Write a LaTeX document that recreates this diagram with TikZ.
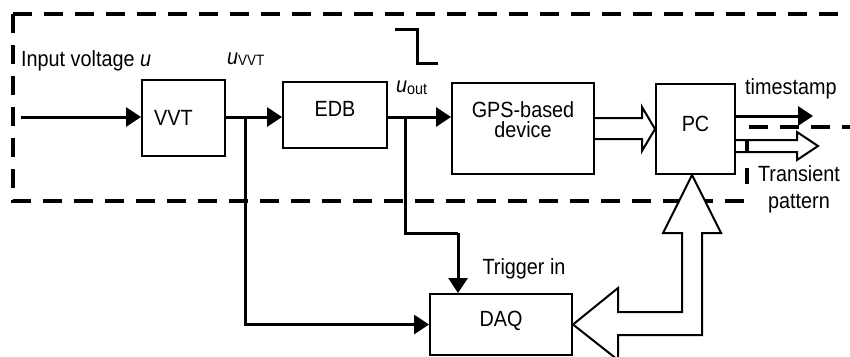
\documentclass[tikz,border=0pt]{standalone}
\usepackage{fontspec}
\setmainfont{Liberation Sans}[FakeStretch=0.9]
\usetikzlibrary{arrows.meta}
\begin{document}
\begin{tikzpicture}[x=1pt,y=-1pt,
  every node/.style={font=\fontsize{22}{27}\selectfont, inner sep=0pt},
  blockbox/.style={draw, line width=2pt, fill=white, align=center},
  wire/.style={line width=3pt},
  arr/.style={wire, -{Triangle[length=15pt,width=19pt]}},
  hollow/.style={line width=2pt, fill=white, line join=miter},
  bound/.style={line width=4.5pt, dash pattern=on 19pt off 12pt}]
\clip (0,0) rectangle (850,356);
\fill[white] (0,0) rectangle (850,356);

% boundary (dashed)
\draw[bound] (13,14) -- (850,14);
\draw[bound] (13,14) -- (13,201) -- (747,201);
\draw[bound] (749,127) -- (850,127);
\draw[line width=4.5pt] (747,184) -- (747,168);

% blocks
\node[blockbox, minimum width=83pt, minimum height=76pt] (VVT) at (183.5,118) {VVT\hspace*{20pt}};
\node[blockbox, minimum width=104pt, minimum height=66pt, text height=16pt, text depth=14pt] (EDB) at (335,115) {EDB};
\node[blockbox, minimum width=142pt, minimum height=91pt] (GPS) at (523,128.5) {GPS-based\\[-7pt]device\\[-10pt]\mbox{}};
\node[blockbox, minimum width=79pt, minimum height=90pt, text height=16pt, text depth=12pt] (PC) at (695.5,129) {PC};
\node[blockbox, minimum width=142pt, minimum height=61pt, text height=16pt, text depth=12pt] (DAQ) at (501,324.5) {DAQ};

% coordinates
\coordinate (in) at (21,117);
\coordinate (b1) at (245,117);
\coordinate (b2) at (405,117);
\coordinate (c2) at (458,233);
\coordinate (ts) at (813,116);
\coordinate (up) at (692,233);

% connectors
\draw[arr] (in) -- (in -| VVT.west);
\draw[arr] (VVT.east |- in) -- (EDB.west |- in);
\draw[arr] (EDB.east |- in) -- (GPS.west |- in);
\draw[arr] (b1) |- (DAQ.west);
\draw[wire] (b2) |- (c2);
\draw[arr] (c2) -- (c2 |- DAQ.north);
\draw[arr] (PC.east |- ts) -- (ts);

% hollow arrows
\draw[hollow] (GPS.east |- 0,118) -- (642,118) -- (642,107) -- (PC.west |- 0,129) -- (642,151) -- (642,139) -- (GPS.east |- 0,139);
\draw[hollow] (PC.east |- 0,140) -- (797,140) -- (797,132) -- (818,146) -- (797,160) -- (797,152) -- (PC.east |- 0,152);
\draw[line width=4.5pt] (747,152) -- (747,140);
\draw[hollow] (618,312) -- (682,312) -- (682,233) -- (663,233) -- (up |- PC.south) -- (721,233) -- (702,233) -- (702,335) -- (618,335) -- (618,360) -- (DAQ.east) -- (618,288) -- cycle;

% step symbol
\draw[line width=3pt] (395,29) -- (417,29) -- (417,63) -- (438,63);

% labels
\node[anchor=west] (lin) at (21,61) {Input voltage \textit{u}};
\node[anchor=west] (luvvt) at (227,59) {\textit{u}\raisebox{-1pt}{\fontsize{15}{15}\selectfont VVT}};
\node[anchor=west] (luout) at (396,88) {\textit{u}\raisebox{-2pt}{\fontsize{16}{16}\selectfont out}};
\node[anchor=west] (lts) at (745,89) {timestamp};
\node[align=center] (ltp) at (799,189.5) {Transient\\pattern};
\node (ltr) at (524,269) {Trigger in};
\end{tikzpicture}
\end{document}
